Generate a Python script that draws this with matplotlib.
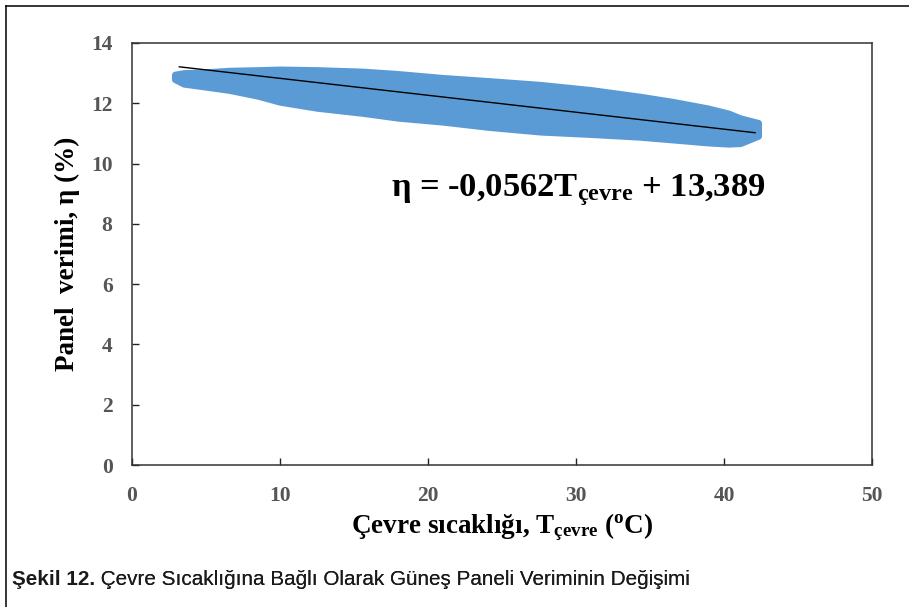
import numpy as np
import matplotlib.pyplot as plt
from matplotlib.lines import Line2D

plt.rcParams['font.family'] = ['Liberation Serif', 'DejaVu Serif']
plt.rcParams['mathtext.fontset'] = 'custom'
plt.rcParams['mathtext.rm'] = 'Liberation Serif:bold'
plt.rcParams['mathtext.it'] = 'Liberation Serif:bold'
plt.rcParams['mathtext.bf'] = 'Liberation Serif:bold'

band_x = [2.9, 3.5, 5.0, 6.6, 8.5, 10.0, 12.5, 15.6, 18.0, 21.0, 24.0,
          27.6, 31.0, 34.3, 36.5, 38.9, 40.3, 41.1, 42.3]
band_upper = [12.95, 13.0, 13.03, 13.08, 13.1, 13.12, 13.1, 13.05, 12.97, 12.84, 12.74,
              12.61, 12.44, 12.22, 12.05, 11.83, 11.66, 11.5, 11.35]
band_lower = [12.8, 12.65, 12.55, 12.44, 12.25, 12.05, 11.85, 11.68, 11.52, 11.39, 11.22,
              11.06, 10.98, 10.89, 10.8, 10.7, 10.66, 10.68, 10.92]

# linear trend line
slope = -0.0562
intercept = 13.389
fit_x = np.array([3.2, 42.1])

xticks = [0, 10, 20, 30, 40, 50]
yticks = [0, 2, 4, 6, 8, 10, 12, 14]

fig = plt.figure(figsize=(9.09, 6.07), dpi=100)
ax = fig.add_axes([0.1452, 0.2339, 0.8141, 0.6953])

ax.fill_between(band_x, band_lower, band_upper, color='#5b9bd5',
                edgecolor='#5b9bd5', linewidth=5, joinstyle='round', zorder=2)
ax.plot(fit_x, slope * fit_x + intercept, color='black', lw=1.0, zorder=3)

ax.set_xlim(0, 50)
ax.set_ylim(0, 14)
ax.set_xticks(xticks)
ax.set_yticks(yticks)
ax.tick_params(direction='in', length=5, width=1, colors='#222222')
ax.tick_params(axis='y', pad=14)
ax.tick_params(axis='x', pad=15)
for lbl in ax.get_xticklabels() + ax.get_yticklabels():
    lbl.set_fontsize(15.5)
    lbl.set_fontweight('bold')
    lbl.set_color('#555555')
for s in ax.spines.values():
    s.set_linewidth(1.1)
    s.set_color('#333333')

ax.set_xlabel('Çevre sıcaklığı, T$_{\\mathregular{çevre}}$ ($^{\\mathregular{o}}$C)',
              fontsize=19.5, fontweight='bold', labelpad=4)
ax.set_ylabel('Panel  verimi, η (%)', fontsize=19.5, fontweight='bold', labelpad=8)

ax.text(17.5, 9.12, 'η = -0,0562T$_{\\mathregular{çevre}}$ + 13,389',
        fontsize=24.8, fontweight='bold', va='center', ha='left')

# outer frame of the figure
fig.add_artist(Line2D([0.0066, 0.0066], [0.0, 0.990], color='black', lw=1.1))
fig.add_artist(Line2D([0.0066, 1.0], [0.990, 0.990], color='black', lw=1.1))

cap = fig.text(0.013, 0.036, 'Şekil 12.', fontsize=14.9, fontweight='bold',
               family=['Liberation Sans'], color='#1a1a1a', va='baseline')
fig.texts.append(ax.annotate(' Çevre Sıcaklığına Bağlı Olarak Güneş Paneli Veriminin Değişimi',
                             xy=(1, 0), xycoords=cap, va='bottom', ha='left',
                             fontsize=14.9, family=['Liberation Sans'],
                             color='#1a1a1a', annotation_clip=False))

fig.savefig('out.png', dpi=100)
